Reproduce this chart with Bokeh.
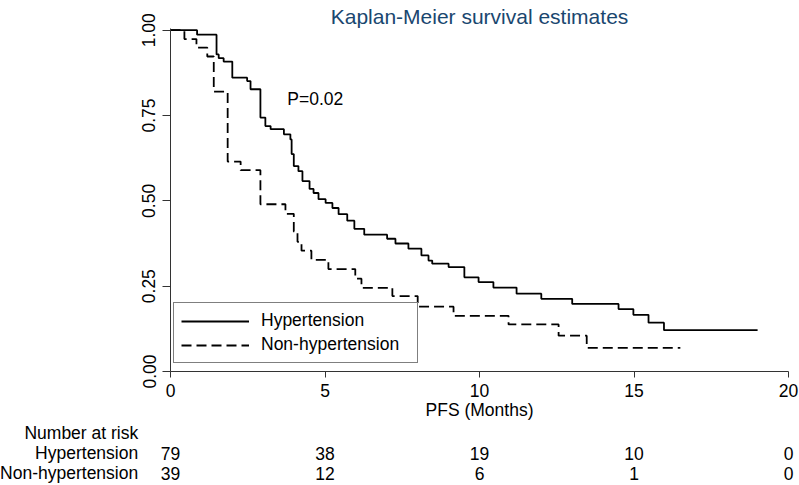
from bokeh.plotting import figure
from bokeh.models import (Range1d, FixedTicker, Label, ColumnDataSource,
                          Legend, LegendItem)
from bokeh.core.properties import value
from bokeh.embed import file_html
from bokeh.resources import INLINE

# ---- data ----
hyp_time = [0, 0.86, 1.49, 1.56, 1.72, 2.00, 2.48, 2.59, 2.91, 3.07, 3.24, 3.67, 3.88,
            3.92, 3.99, 4.14, 4.27, 4.50, 4.63, 4.79, 5.02, 5.24, 5.44, 5.72, 5.95,
            6.27, 7.01, 7.28, 7.70, 8.12, 8.35, 8.47, 9.00, 9.51, 9.97, 10.45, 11.2,
            12.0, 13.0, 14.5, 14.98, 15.47, 15.97, 19.0]
hyp_surv = [1.0, 0.987, 0.929, 0.918, 0.908, 0.861, 0.851, 0.827, 0.744, 0.719, 0.710,
            0.695, 0.680, 0.637, 0.602, 0.587, 0.558, 0.535, 0.523, 0.505, 0.494, 0.479,
            0.461, 0.442, 0.418, 0.401, 0.389, 0.375, 0.360, 0.340, 0.325, 0.316, 0.306,
            0.276, 0.262, 0.246, 0.228, 0.213, 0.198, 0.183, 0.166, 0.143, 0.121, 0.121]

non_time = [0, 0.45, 0.84, 1.19, 1.40, 1.85, 2.27, 2.91, 3.72, 3.99, 4.11, 4.24, 4.56,
            5.11, 5.98, 6.18, 7.18, 8.0, 9.16, 10.94, 12.56, 13.47, 16.5]
non_surv = [1.0, 0.974, 0.949, 0.923, 0.82, 0.615, 0.59, 0.49, 0.462, 0.41, 0.38, 0.354,
            0.327, 0.30, 0.272, 0.245, 0.221, 0.19, 0.163, 0.138, 0.105, 0.069, 0.069]

series_names = ["Hypertension", "Non-hypertension"]
x_ticks = [0, 5, 10, 15, 20]
y_ticks = [0, 0.25, 0.5, 0.75, 1.0]
y_tick_labels = ["0.00", "0.25", "0.50", "0.75", "1.00"]
risk_times = [0, 5, 10, 15, 20]
risk_hyp = [79, 38, 19, 10, 0]
risk_non = [39, 12, 6, 1, 0]
risk_header = "Number at risk"
title_text = "Kaplan-Meier survival estimates"
p_text = "P=0.02"
x_label = "PFS (Months)"

FONT = "Liberation Sans"
FS = "17.5px"
PX_PER_MONTH = 618 / 20.0
LEFT = 170
W = 799

# ---------------- main plot ----------------
p = figure(width=W, height=424, x_range=Range1d(0, 20), y_range=Range1d(0, 1.005),
           output_backend="svg", toolbar_location=None,
           min_border_left=LEFT, min_border_right=11, min_border_top=28,
           min_border_bottom=53)
p.outline_line_color = None
p.xgrid.visible = False
p.ygrid.visible = False

p.title.text = title_text
p.title.align = "center"
p.title.text_font = FONT
p.title.text_font_size = "21px"
p.title.text_font_style = "normal"
p.title.text_color = "#1a476f"
p.title.standoff = 2

r1 = p.step(hyp_time, hyp_surv, mode="after", line_color="black", line_width=1.8)
r2 = p.step(non_time, non_surv, mode="after", line_color="black", line_width=1.8,
            line_dash="10 5")

for ax in (p.xaxis[0], p.yaxis[0]):
    ax.axis_line_color = "#333333"
    ax.major_tick_line_color = "#333333"
    ax.minor_tick_line_color = None
    ax.major_tick_in = 0
    ax.major_label_text_font = FONT
    ax.major_label_text_font_size = FS
    ax.major_label_text_color = "black"

p.xaxis.ticker = FixedTicker(ticks=x_ticks)
p.xaxis.major_tick_out = 6
p.xaxis.major_label_standoff = 6
p.xaxis.axis_label = x_label
p.xaxis.axis_label_text_font = FONT
p.xaxis.axis_label_text_font_size = FS
p.xaxis.axis_label_text_font_style = "normal"
p.xaxis.axis_label_text_color = "black"
p.xaxis.axis_label_standoff = 0

p.yaxis.ticker = FixedTicker(ticks=y_ticks)
p.yaxis.major_label_overrides = {t: l for t, l in zip(y_ticks, y_tick_labels)}
p.yaxis.major_tick_out = 8
p.yaxis.major_label_standoff = 7
p.yaxis.major_label_orientation = "vertical"

legend = Legend(items=[LegendItem(label=series_names[0], renderers=[r1]),
                       LegendItem(label=series_names[1], renderers=[r2])],
                location=(3, 8), orientation="vertical",
                label_text_font=FONT, label_text_font_size=FS,
                label_text_color="black",
                glyph_width=68, glyph_height=18, label_standoff=12,
                label_height=18, label_width=149, padding=7, spacing=3, margin=0,
                border_line_color="black", border_line_width=1,
                background_fill_color="white", background_fill_alpha=1)
p.add_layout(legend)

p.add_layout(Label(x=3.78, y=0.798, text=p_text, text_align="left",
                   text_baseline="middle", text_font=FONT, text_font_size=FS,
                   text_color="black"))

# ---------------- number at risk table (separate root, full-width frame) ----------
TH = 61
ROW0 = 8.8       # nominal position of first row, px below table top
ROWSTEP = 19.85  # px between rows
t = figure(width=W, height=TH,
           x_range=Range1d(-LEFT / PX_PER_MONTH, (W - LEFT) / PX_PER_MONTH),
           y_range=Range1d((TH - ROW0) / ROWSTEP, -ROW0 / ROWSTEP),
           output_backend="svg", toolbar_location=None,
           x_axis_location=None, y_axis_location=None,
           min_border=0, min_border_left=0, min_border_right=0,
           min_border_top=0, min_border_bottom=0)
t.xgrid.visible = False
t.ygrid.visible = False
t.outline_line_color = None

row_label_x = -1.045
t.text(x=[row_label_x] * 3, y=[0, 1, 2], text=[risk_header] + series_names,
       text_align="right", text_baseline="alphabetic", text_font=value(FONT),
       text_font_size=value(FS), text_color="black")
for row, counts in ((1, risk_hyp), (2, risk_non)):
    src = ColumnDataSource(dict(x=risk_times, y=[row] * len(risk_times),
                                t=[str(c) for c in counts]))
    t.text(x="x", y="y", text="t", source=src, text_align="center",
           text_baseline="alphabetic", text_font=value(FONT),
           text_font_size=value(FS), text_color="black")

open("out.html", "w").write(file_html([p, t], INLINE))
